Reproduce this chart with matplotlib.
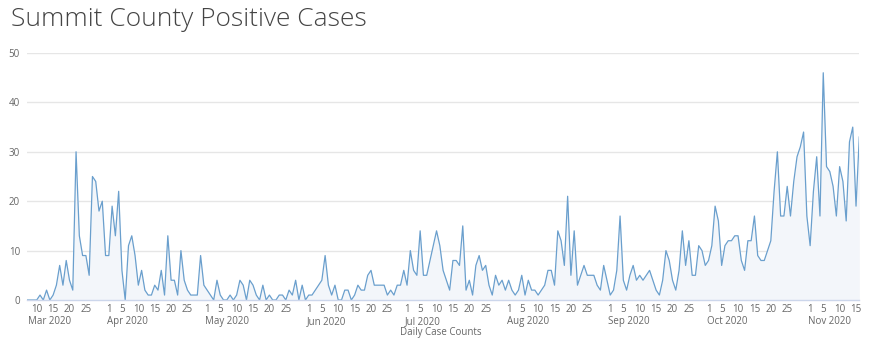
import matplotlib
matplotlib.use("Agg")
import matplotlib.pyplot as plt
import matplotlib.dates as mdates
import pandas as pd

plt.rcParams['font.family'] = ['Open Sans', 'DejaVu Sans']

# daily positive case counts, one value per day starting 2020-03-07
start_date = "2020-03-07"
daily_cases = [
    0, 0, 0, 0, 1, 0, 2, 0, 1, 3, 7, 3, 8, 4, 2, 30, 13, 9, 9, 5,
    25, 24, 18, 20, 9, 9, 19, 13, 22, 6, 0, 11, 13, 9, 3, 6, 2, 1, 1, 3,
    2, 6, 1, 13, 4, 4, 1, 10, 4, 2, 1, 1, 1, 9, 3, 2, 1, 0, 4, 1,
    0, 0, 1, 0, 1, 4, 3, 0, 4, 3, 1, 0, 3, 0, 1, 0, 0, 1, 1, 0,
    2, 1, 4, 0, 3, 0, 1, 1, 2, 3, 4, 9, 3, 1, 3, 0, 0, 2, 2, 0,
    1, 3, 2, 2, 5, 6, 3, 3, 3, 3, 1, 2, 1, 3, 3, 6, 3, 10, 6, 5,
    14, 5, 5, 8, 11, 14, 11, 6, 4, 2, 8, 8, 7, 15, 2, 4, 1, 7, 9, 6,
    7, 3, 1, 5, 3, 4, 2, 4, 2, 1, 2, 5, 1, 4, 2, 2, 1, 2, 3, 6,
    6, 3, 14, 12, 7, 21, 5, 14, 3, 5, 7, 5, 5, 5, 3, 2, 7, 4, 1, 2,
    6, 17, 4, 2, 5, 7, 4, 5, 4, 5, 6, 4, 2, 1, 4, 10, 8, 4, 2, 6,
    14, 7, 12, 5, 5, 11, 10, 7, 8, 11, 19, 16, 7, 11, 12, 12, 13, 13, 8, 6,
    12, 12, 17, 9, 8, 8, 10, 12, 22, 30, 17, 17, 23, 17, 24, 29, 31, 34, 17, 11,
    22, 29, 17, 46, 27, 26, 23, 17, 27, 24, 16, 32, 35, 19, 33,
]
dates = pd.date_range(start_date, periods=len(daily_cases), freq="D")

tick_days = [1, 5, 10, 15, 20, 25]
y_ticks = [0, 10, 20, 30, 40, 50]
month_starts = pd.date_range("2020-03-01", "2020-11-01", freq="MS")

fig = plt.figure(figsize=(8.8, 3.45), dpi=100)
ax = fig.add_axes([26.9 / 880, 45 / 345, (859.3 - 26.9) / 880, 247 / 345])

line_color = "#6a9fcd"
ax.fill_between(dates, daily_cases, 0, color="#f3f6fa", linewidth=0)
ax.plot(dates, daily_cases, color=line_color, linewidth=0.9)

ax.set_xlim(dates[0], dates[-1])
ax.set_ylim(0, 50)
ax.set_yticks(y_ticks)
ax.grid(axis="y", color="#e6e6e6", linewidth=1)
ax.set_axisbelow(True)

for side in ["top", "right", "left"]:
    ax.spines[side].set_visible(False)
ax.spines["bottom"].set_color("#ccd6eb")
ax.spines["bottom"].set_linewidth(1)

ax.xaxis.set_major_locator(mdates.DayLocator(bymonthday=tick_days))
ax.xaxis.set_major_formatter(mdates.DateFormatter("%-d"))
ax.tick_params(axis="x", length=0, pad=3, labelsize=7, labelcolor="#666666")
ax.tick_params(axis="y", length=0, pad=5, labelsize=7, labelcolor="#666666")

# month names under the day numbers
for m in month_starts:
    pos = max(m, pd.Timestamp("2020-03-08"))
    ax.annotate(m.strftime("%b %Y"), xy=(mdates.date2num(pos) - 0.6, 0),
                xycoords=("data", "axes fraction"), xytext=(0, -11.5),
                textcoords="offset points", ha="left", va="top",
                fontsize=7, color="#666666")

fig.text(441 / 880, 1 - 333 / 345, "Daily Case Counts", ha="center", va="center",
         fontsize=7, color="#666666")
fig.text(11 / 880, 1 - 20 / 345, "Summit County Positive Cases", ha="left",
         va="center", fontsize=19, color="#444444", fontweight="light")

fig.savefig("out.png", dpi=100)
